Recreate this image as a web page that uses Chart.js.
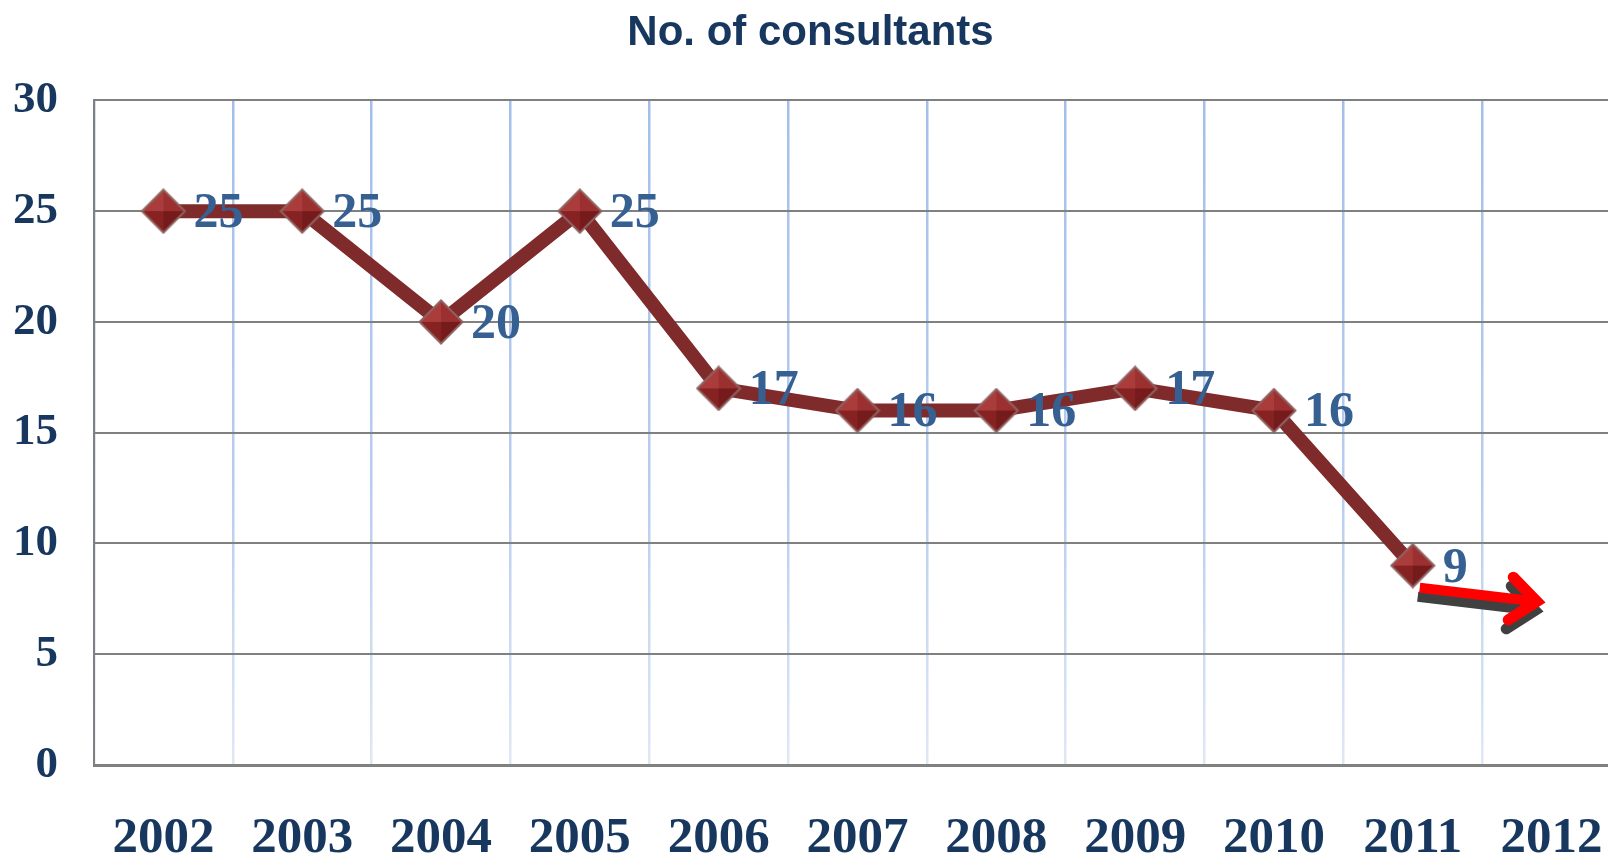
<!DOCTYPE html>
<html>
<head>
<meta charset="utf-8">
<script src="https://cdn.jsdelivr.net/npm/chart.js@4.4.1/dist/chart.umd.min.js"></script>
<style>
  html, body { margin: 0; padding: 0; background: #ffffff; overflow: hidden; }
  #wrap { position: relative; width: 1621px; height: 854px; }
</style>
</head>
<body>
<div id="wrap"><canvas id="c"></canvas></div>
<script>
// ---- data ----
const titleText = "No. of consultants";
const years = ["2002","2003","2004","2005","2006","2007","2008","2009","2010","2011","2012"];
const consultants = [25, 25, 20, 25, 17, 16, 16, 17, 16, 9, null];
const yTicks = [0, 5, 10, 15, 20, 25, 30];
// trend arrow, in data space: [category index, value]
const arrowFrom = [9.05, 8.0];
const arrowTo = [9.93, 7.35];

const navy = "#17375e";
const labelBlue = "#376092";

// faceted diamond marker image (pyramid look)
function makeMarker(size) {
  const cv = document.createElement("canvas");
  cv.width = size; cv.height = size;
  const g = cv.getContext("2d");
  const c = size / 2, r = size / 2 - 1.5;
  const T = [c, c - r], R = [c + r, c], B = [c, c + r], L = [c - r, c], C = [c, c];
  function tri(a, b, col) {
    g.beginPath(); g.moveTo(C[0], C[1]); g.lineTo(a[0], a[1]); g.lineTo(b[0], b[1]); g.closePath();
    g.fillStyle = col; g.fill();
  }
  tri(L, T, "#ab3c3c");
  tri(T, R, "#9c3030");
  tri(R, B, "#761b1b");
  tri(B, L, "#862222");
  g.beginPath(); g.moveTo(T[0], T[1]); g.lineTo(R[0], R[1]); g.lineTo(B[0], B[1]); g.lineTo(L[0], L[1]); g.closePath();
  g.strokeStyle = "#8f6361"; g.lineWidth = 2; g.stroke();
  return cv;
}
const markerImg = makeMarker(46);

const dataLabelPlugin = {
  id: "dataLabels",
  afterDatasetsDraw(chart) {
    const ctx = chart.ctx;
    const meta = chart.getDatasetMeta(0);
    ctx.save();
    ctx.font = "bold 50px 'Liberation Serif', 'DejaVu Serif', serif";
    ctx.fillStyle = labelBlue;
    ctx.textAlign = "left";
    ctx.textBaseline = "middle";
    meta.data.forEach((pt, i) => {
      const v = chart.data.datasets[0].data[i];
      if (v === null || v === undefined) return;
      ctx.fillText(String(v), pt.x + 30, pt.y + 3);
    });
    ctx.restore();
  }
};

const arrowPlugin = {
  id: "trendArrow",
  afterDatasetsDraw(chart) {
    const xs = chart.scales.x, ys = chart.scales.y;
    const x1 = xs.getPixelForValue(arrowFrom[0]), y1 = ys.getPixelForValue(arrowFrom[1]);
    const x2 = xs.getPixelForValue(arrowTo[0]), y2 = ys.getPixelForValue(arrowTo[1]);
    const ctx = chart.ctx;
    const ang = Math.atan2(y2 - y1, x2 - x1);
    const head = 38, spread = 0.6;
    function drawArrow(dx, dy, color) {
      ctx.save();
      ctx.strokeStyle = color;
      ctx.lineWidth = 10;
      ctx.lineCap = "butt";
      ctx.beginPath();
      ctx.moveTo(x1 + dx, y1 + dy);
      ctx.lineTo(x2 + dx - 8 * Math.cos(ang), y2 + dy - 8 * Math.sin(ang));
      ctx.stroke();
      ctx.lineWidth = 11;
      ctx.lineCap = "round";
      ctx.lineJoin = "miter";
      ctx.beginPath();
      ctx.moveTo(x2 + dx - head * Math.cos(ang - spread), y2 + dy - head * Math.sin(ang - spread));
      ctx.lineTo(x2 + dx - 5 * Math.cos(ang), y2 + dy - 5 * Math.sin(ang));
      ctx.lineTo(x2 + dx - head * Math.cos(ang + spread), y2 + dy - head * Math.sin(ang + spread));
      ctx.stroke();
      ctx.restore();
    }
    drawArrow(-2, 9, "#404040");
    drawArrow(0, 0, "#ff0000");
  }
};

function vGridColor(c) {
  const chart = c.chart;
  const area = chart.chartArea;
  if (!area) return "#a9c2e8";
  const g = chart.ctx.createLinearGradient(0, area.top, 0, area.bottom);
  g.addColorStop(0, "#a3bfe9");
  g.addColorStop(0.6, "#b9cdee");
  g.addColorStop(1, "#dfe8f6");
  return g;
}

new Chart(document.getElementById("c"), {
  type: "line",
  data: {
    labels: years,
    datasets: [{
      data: consultants,
      borderColor: "#7f2b2b",
      borderWidth: 14,
      pointStyle: markerImg,
      pointRadius: 23,
      pointHoverRadius: 23,
      tension: 0,
      spanGaps: false
    }]
  },
  options: {
    responsive: true,
    maintainAspectRatio: false,
    animation: false,
    events: [],
    layout: { autoPadding: false, padding: { left: 0, right: 0, top: 0, bottom: 0 } },
    plugins: {
      legend: { display: false },
      tooltip: { enabled: false },
      title: {
        display: true,
        text: titleText,
        color: navy,
        font: { family: "'Liberation Sans Narrow', 'Liberation Sans', sans-serif", weight: "bold", size: 42, lineHeight: 1.2 },
        padding: { top: 8, bottom: 42 }
      }
    },
    scales: {
      x: {
        offset: true,
        grid: {
          offset: true,
          color: vGridColor,
          lineWidth: 2.5,
          drawTicks: false
        },
        border: { display: true, color: "#808080", width: 3 },
        ticks: {
          color: navy,
          font: { family: "'Liberation Serif', 'DejaVu Serif', serif", weight: "bold", size: 51, lineHeight: 1.2 },
          padding: 43,
          maxRotation: 0,
          autoSkip: false
        },
        afterFit(scale) { scale.height = 89; scale.paddingLeft = 0; scale.paddingRight = 0; }
      },
      y: {
        min: 0,
        max: 30,
        afterBuildTicks(scale) { scale.ticks = yTicks.map(v => ({ value: v })); },
        grid: { color: "#808080", lineWidth: 2, drawTicks: false },
        border: { display: true, color: "#808080", width: 2 },
        ticks: {
          color: navy,
          font: { family: "'Liberation Serif', 'DejaVu Serif', serif", weight: "bold", size: 45, lineHeight: 1.2 },
          padding: 36
        },
        afterFit(scale) { scale.width = 94; scale.paddingTop = 0; scale.paddingBottom = 0; }
      }
    }
  },
  plugins: [dataLabelPlugin, arrowPlugin]
});
</script>
</body>
</html>
